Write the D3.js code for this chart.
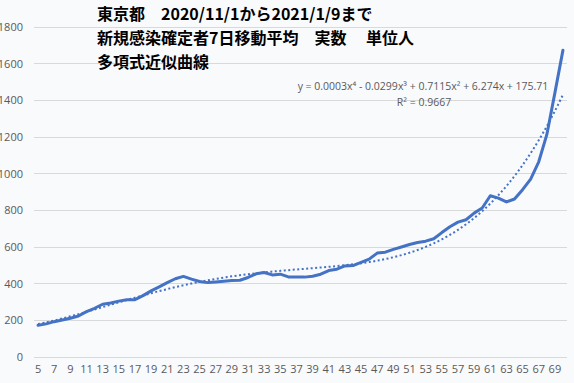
<!DOCTYPE html>
<html>
<head>
<meta charset="utf-8">
<script src="https://cdn.jsdelivr.net/npm/d3@7/dist/d3.min.js"></script>
<style>
  body { margin: 0; background: #f9fafc; }
  svg { display: block; }
  .tick text { fill: #595959; font-family: "Open Sans", "Noto Sans", sans-serif; font-size: 11px; }
</style>
</head>
<body>
<svg id="chart" width="574" height="383"></svg>
<script>
    // day index 5..70 (counting from 2020/11/1)
    const days = d3.range(5, 71)
    const avg7 = [
        170, 178, 190, 199, 209, 221, 245, 263, 285, 292,
        302, 309, 310, 332, 358, 380, 403, 424, 437, 422,
        409, 403, 407, 411, 414, 416, 431, 451, 458, 445,
        449, 434, 433, 433, 438, 449, 469, 476, 494, 496,
        513, 531, 564, 569, 584, 597, 611, 622, 629, 642,
        676, 708, 733, 746, 782, 810, 877, 864, 843, 859,
        910, 968, 1062, 1210, 1438, 1671
    ]
    const yTicks = [0, 200, 400, 600, 800, 1000, 1200, 1400, 1600, 1800]
    const titleLines = [
        "東京都　2020/11/1から2021/1/9まで",
        "新規感染確定者7日移動平均　実数　 単位人",
        "多項式近似曲線"
    ]
    const eqLines = [
        "y = 0.0003x⁴ - 0.0299x³ + 0.7115x² + 6.274x + 175.71",
        "R² = 0.9667"
    ]

    const svg = d3.select('#chart')
    const margin = {top: 27, right: 7, bottom: 27, left: 34}
    const W = 574, H = 383

    const x = d3.scaleBand().domain(days).range([margin.left, W - margin.right])
    const y = d3.scaleLinear().domain([0, 1800]).range([H - margin.bottom + 0.5, margin.top - 0.5])

    // gridlines
    svg.append('g')
        .selectAll('line')
        .data(yTicks)
        .enter().append('line')
        .attr('x1', margin.left).attr('x2', W - margin.right)
        .attr('y1', d => Math.round(y(d)) + 0.5).attr('y2', d => Math.round(y(d)) + 0.5)
        .attr('stroke', '#d9d9d9')

    // y axis labels
    const yAxis = svg.append('g')
        .attr('transform', `translate(${margin.left - 11},0)`)
        .call(d3.axisLeft(y).tickValues(yTicks).tickFormat(d3.format('d')).tickSize(0).tickPadding(0))
    yAxis.select('.domain').remove()
    yAxis.selectAll('text').attr('dy', '0.35em')

    // x axis labels, every other category
    const xAxis = svg.append('g')
        .attr('transform', `translate(0,${H - margin.bottom + 9})`)
        .call(d3.axisBottom(x).tickValues(days.filter(d => d % 2 === 1)).tickSize(0).tickPadding(0))
    xAxis.select('.domain').remove()

    // polynomial (4th order) least squares fit, x = 1..n like Excel
    function polyFit(vals, order) {
        const n = vals.length
        const s = 1 / n // scale x to keep the matrix sane
        const m = order + 1
        const A = d3.range(m).map(() => new Array(m + 1).fill(0))
        vals.forEach((v, i) => {
            const t = (i + 1) * s
            for (let r = 0; r < m; r++) {
                for (let c = 0; c < m; c++) A[r][c] += Math.pow(t, r + c)
                A[r][m] += v * Math.pow(t, r)
            }
        })
        for (let i = 0; i < m; i++) {
            let p = i
            for (let k = i + 1; k < m; k++) if (Math.abs(A[k][i]) > Math.abs(A[p][i])) p = k
            const tmp = A[i]; A[i] = A[p]; A[p] = tmp
            for (let k = 0; k < m; k++) {
                if (k === i) continue
                const f = A[k][i] / A[i][i]
                for (let c = i; c <= m; c++) A[k][c] -= f * A[i][c]
            }
        }
        const coef = A.map((row, i) => row[m] / row[i])
        return i => coef.reduce((acc, c, k) => acc + c * Math.pow(i * s, k), 0)
    }

    const fit = polyFit(avg7, 4)
    const cx = d => x(d) + x.bandwidth() / 2

    const trendLine = d3.line()
        .x(d => cx(d))
        .y((d, i) => y(fit(i + 1)))
        .curve(d3.curveCatmullRom)

    svg.append('path')
        .datum(days)
        .attr('d', trendLine)
        .attr('fill', 'none')
        .attr('stroke', '#4472c4')
        .attr('stroke-width', 2)
        .attr('stroke-dasharray', '2,2.5')

    const dataLine = d3.line()
        .x((d, i) => cx(days[i]))
        .y(d => y(d))

    svg.append('path')
        .datum(avg7)
        .attr('d', dataLine)
        .attr('fill', 'none')
        .attr('stroke', '#4472c4')
        .attr('stroke-width', 3)
        .attr('stroke-linejoin', 'round')
        .attr('stroke-linecap', 'round')

    // trendline label
    svg.append('g').selectAll('text')
        .data(eqLines)
        .enter().append('text')
        .attr('x', (d, i) => i === 0 ? 423 : 424)
        .attr('y', (d, i) => 90 + i * 15.5)
        .attr('text-anchor', 'middle')
        .attr('fill', '#595959')
        .style('font-family', '"Open Sans", "Noto Sans", sans-serif')
        .style('font-size', '10.5px')
        .text(d => d)

    // title
    svg.append('g').selectAll('text')
        .data(titleLines)
        .enter().append('text')
        .attr('x', 97)
        .attr('y', (d, i) => 20 + i * 24)
        .attr('fill', '#000')
        .style('font-family', '"Noto Sans CJK JP", sans-serif')
        .style('font-weight', 'bold')
        .style('font-size', '16px')
        .text(d => d)
</script>
</body>
</html>
